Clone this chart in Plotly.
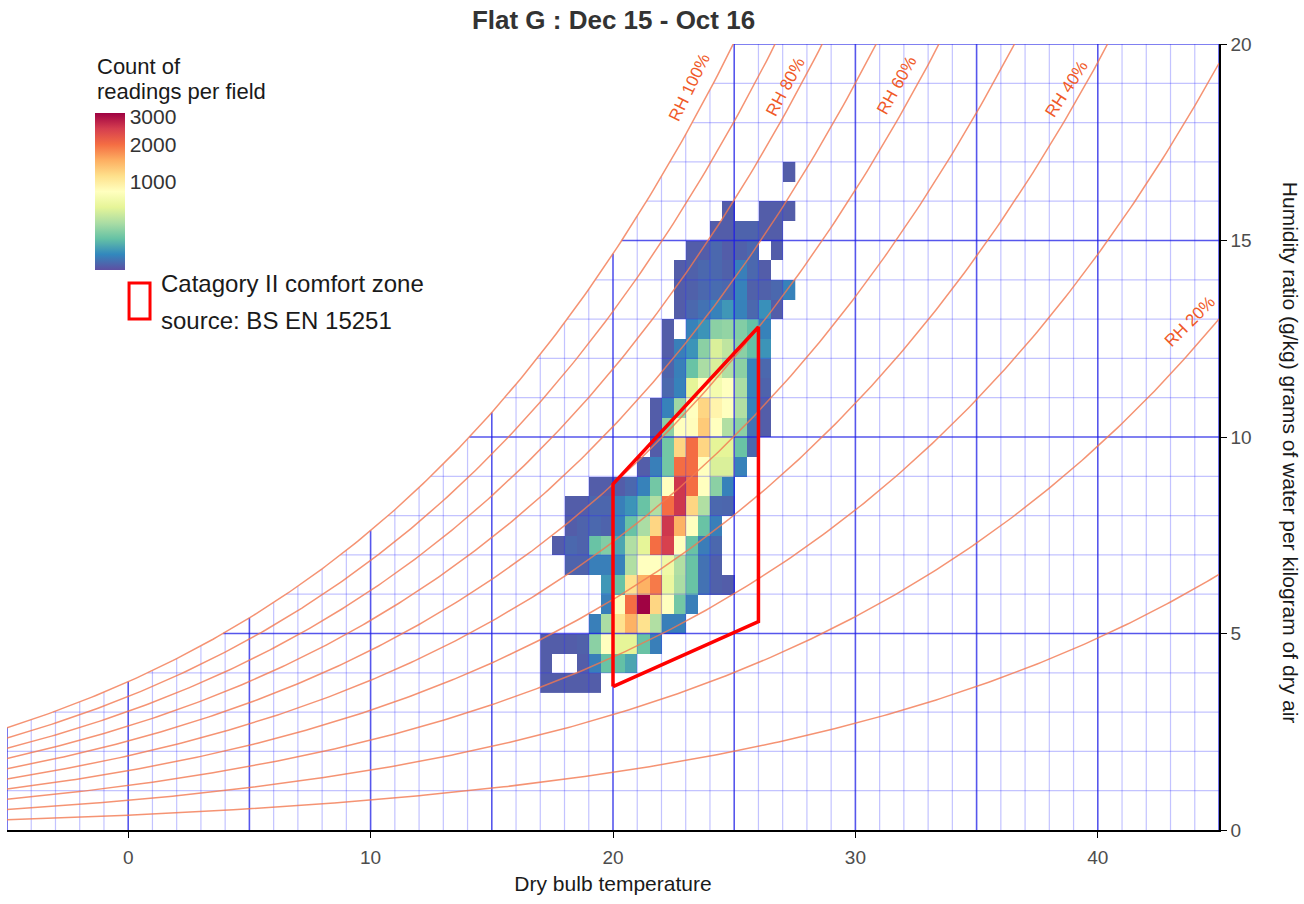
import numpy as np
import plotly.graph_objects as go

# ---------------- data ----------------
chart_title = "Flat G : Dec 15 - Oct 16"

# lower edges of the 0.5 x 0.5 bins
t_bin_lower = [17.0, 17.5, 18.0, 18.5, 19.0, 19.5, 20.0, 20.5, 21.0, 21.5, 22.0,
               22.5, 23.0, 23.5, 24.0, 24.5, 25.0, 25.5, 26.0, 26.5, 27.0]
w_bin_lower = [3.5, 4.0, 4.5, 5.0, 5.5, 6.0, 6.5, 7.0, 7.5, 8.0, 8.5, 9.0, 9.5,
               10.0, 10.5, 11.0, 11.5, 12.0, 12.5, 13.0, 13.5, 14.0, 14.5, 15.0,
               15.5, 16.0, 16.5]
bin_size = 0.5

# counts of readings per field (rows = humidity bins from 3.5 upward, cols = temperature bins)
counts = [
    [2, 2, 2, 2, 2, 0, 0, 0, 0, 0, 0, 0, 0, 0, 0, 0, 0, 0, 0, 0, 0],
    [2, 0, 0, 2, 22, 130, 120, 70, 0, 0, 0, 0, 0, 0, 0, 0, 0, 0, 0, 0, 0],
    [2, 2, 2, 3, 200, 780, 500, 500, 130, 22, 0, 0, 0, 0, 0, 0, 0, 0, 0, 0, 0],
    [0, 0, 0, 0, 22, 280, 1100, 1500, 1100, 300, 22, 22, 0, 0, 0, 0, 0, 0, 0, 0, 0],
    [0, 0, 0, 0, 0, 22, 800, 2000, 3100, 1200, 780, 150, 22, 0, 0, 0, 0, 0, 0, 0, 0],
    [0, 0, 0, 0, 0, 50, 130, 1100, 1500, 1900, 550, 280, 130, 12, 3, 2, 0, 0, 0, 0, 0],
    [0, 0, 4, 4, 22, 22, 25, 300, 780, 780, 600, 300, 130, 12, 3, 0, 0, 0, 0, 0, 0],
    [0, 2, 6, 4, 130, 180, 70, 300, 500, 2000, 2500, 780, 130, 20, 6, 0, 0, 0, 0, 0, 0],
    [0, 0, 2, 4, 6, 4, 25, 130, 280, 1200, 2600, 1500, 780, 130, 22, 0, 0, 0, 0, 0, 0],
    [0, 0, 2, 2, 5, 5, 22, 45, 130, 300, 2000, 2600, 1200, 300, 6, 5, 0, 0, 0, 0, 0],
    [0, 0, 0, 0, 2, 2, 2, 6, 25, 150, 780, 2600, 2000, 780, 200, 25, 0, 0, 0, 0, 0],
    [0, 0, 0, 0, 0, 0, 0, 0, 2, 22, 150, 2000, 2000, 780, 450, 450, 25, 0, 0, 0, 0],
    [0, 0, 0, 0, 0, 0, 0, 0, 0, 2, 150, 1200, 2000, 1200, 500, 500, 130, 6, 0, 0, 0],
    [0, 0, 0, 0, 0, 0, 0, 0, 0, 2, 200, 780, 800, 1300, 780, 300, 200, 12, 2, 0, 0],
    [0, 0, 0, 0, 0, 0, 0, 0, 0, 2, 25, 250, 780, 1200, 900, 780, 300, 25, 2, 0, 0],
    [0, 0, 0, 0, 0, 0, 0, 0, 0, 0, 6, 25, 500, 780, 650, 780, 280, 25, 4, 0, 0],
    [0, 0, 0, 0, 0, 0, 0, 0, 0, 0, 4, 22, 130, 280, 450, 300, 200, 25, 6, 0, 0],
    [0, 0, 0, 0, 0, 0, 0, 0, 0, 0, 2, 22, 45, 200, 450, 350, 200, 120, 45, 0, 0],
    [0, 0, 0, 0, 0, 0, 0, 0, 0, 0, 2, 0, 25, 45, 200, 220, 180, 120, 25, 0, 0],
    [0, 0, 0, 0, 0, 0, 0, 0, 0, 0, 0, 2, 6, 12, 25, 50, 25, 6, 40, 2, 0],
    [0, 0, 0, 0, 0, 0, 0, 0, 0, 0, 0, 2, 3, 6, 8, 6, 25, 3, 3, 6, 25],
    [0, 0, 0, 0, 0, 0, 0, 0, 0, 0, 0, 2, 3, 6, 6, 3, 22, 6, 2, 0, 0],
    [0, 0, 0, 0, 0, 0, 0, 0, 0, 0, 0, 0, 2, 2, 6, 2, 3, 6, 0, 2, 0],
    [0, 0, 0, 0, 0, 0, 0, 0, 0, 0, 0, 0, 0, 0, 2, 2, 4, 4, 2, 2, 0],
    [0, 0, 0, 0, 0, 0, 0, 0, 0, 0, 0, 0, 0, 0, 0, 2, 0, 0, 2, 2, 2],
    [0, 0, 0, 0, 0, 0, 0, 0, 0, 0, 0, 0, 0, 0, 0, 0, 0, 0, 0, 0, 0],
    [0, 0, 0, 0, 0, 0, 0, 0, 0, 0, 0, 0, 0, 0, 0, 0, 0, 0, 0, 0, 2],
]

colorbar_ticks = [1000, 2000, 3000]
count_max = 3125

# comfort zone polygon (Category II, BS EN 15251)
comfort_t = [20, 20, 26, 26, 20]
comfort_w = [3.65, 8.8, 12.8, 5.3, 3.65]

# relative humidity curves and their labels
rh_levels = [10, 20, 30, 40, 50, 60, 70, 80, 90, 100]
rh_label_text = ["RH 100%", "RH 80%", "RH 60%", "RH 40%", "RH 20%"]
rh_label_t = [23.15, 27.1, 31.7, 38.7, 43.8]
rh_label_w = [18.9, 18.9, 18.95, 18.85, 12.95]
rh_label_angle = [-64, -62, -61, -57, -45]

x_ticks = [0, 10, 20, 30, 40]
y_ticks = [0, 5, 10, 15, 20]
T_MIN, T_MAX, W_MIN, W_MAX = -5, 45, 0, 20

FONT = "Liberation Sans, Arial"

# ---------------- psychrometrics ----------------
P_ATM = 101325.0


def w_sat(t):
    pws = 610.94 * np.exp(17.625 * t / (t + 243.04))
    return 622.0 * pws / (P_ATM - pws)


def t_sat(w):
    pws = w * P_ATM / (622.0 + w)
    a = np.log(pws / 610.94)
    return 243.04 * a / (17.625 - a)


# ---------------- figure ----------------
fig = go.Figure()

# heatmap (square-root colour scale)
z = [[(np.sqrt(v) if v > 0 else None) for v in row] for row in counts]
x_centers = [t + bin_size / 2 for t in t_bin_lower]
y_centers = [w + bin_size / 2 for w in w_bin_lower]
fig.add_trace(go.Heatmap(
    x=x_centers, y=y_centers, z=z,
    colorscale="Spectral_r", zmin=0, zmax=np.sqrt(count_max),
    hoverongaps=False,
    colorbar=dict(
        tickvals=[np.sqrt(v) for v in colorbar_ticks],
        ticktext=[str(v) for v in colorbar_ticks],
        ticks="", tickfont=dict(size=21, color="#333333", family=FONT),
        thickness=30, len=157, lenmode="pixels", xpad=0, ypad=0,
        x=0.0726, xanchor="left", y=0.9122, yanchor="top",
        outlinewidth=0,
    ),
))


# blue grid lines clipped by the saturation curve
def vertical_lines(vals):
    xs, ys = [], []
    for t in vals:
        xs += [t, t, None]
        ys += [0, min(float(w_sat(t)), W_MAX), None]
    return xs, ys


def horizontal_lines(vals):
    xs, ys = [], []
    for w in vals:
        xs += [max(float(t_sat(w)), T_MIN), T_MAX, None]
        ys += [w, w, None]
    return xs, ys


minor_t = [t for t in range(T_MIN, T_MAX + 1) if t % 5 != 0]
major_t = [t for t in range(T_MIN, T_MAX + 1) if t % 5 == 0]
minor_w = [w for w in range(1, W_MAX + 1) if w % 5 != 0]
major_w = [w for w in range(1, W_MAX + 1) if w % 5 == 0]

for vals, fn, col, wd in [
    (minor_t, vertical_lines, "rgba(40,40,255,0.28)", 1.2),
    (minor_w, horizontal_lines, "rgba(40,40,255,0.28)", 1.2),
    (major_t, vertical_lines, "rgba(30,30,230,0.75)", 1.6),
    (major_w, horizontal_lines, "rgba(30,30,230,0.75)", 1.6),
]:
    xs, ys = fn(vals)
    fig.add_trace(go.Scatter(x=xs, y=ys, mode="lines", line=dict(color=col, width=wd),
                             hoverinfo="skip", showlegend=False))

# RH curves
t_curve = np.linspace(T_MIN, T_MAX, 301)
for rh in rh_levels:
    fig.add_trace(go.Scatter(x=t_curve, y=w_sat(t_curve) * rh / 100.0, mode="lines",
                             line=dict(color="rgba(242,120,80,0.8)", width=1.5),
                             hoverinfo="skip", showlegend=False))

# comfort zone polygon
fig.add_trace(go.Scatter(x=comfort_t, y=comfort_w, mode="lines",
                         line=dict(color="#FF0000", width=3.5),
                         hoverinfo="skip", showlegend=False))

annotations = []
for txt, tx, wy, ang in zip(rh_label_text, rh_label_t, rh_label_w, rh_label_angle):
    annotations.append(dict(x=tx, y=wy, xref="x", yref="y", text=txt, showarrow=False,
                            textangle=ang, font=dict(size=17, color="#F05A28", family=FONT)))

# colour bar title and custom legend for the comfort zone
annotations += [
    dict(x=0.0726, y=0.9720, xref="paper", yref="paper", xanchor="left", yanchor="middle",
         text="Count of", showarrow=False,
         font=dict(size=22, color="#1a1a1a", family=FONT)),
    dict(x=0.0726, y=0.9402, xref="paper", yref="paper", xanchor="left", yanchor="middle",
         text="readings per field", showarrow=False,
         font=dict(size=22, color="#1a1a1a", family=FONT)),
    dict(x=0.1254, y=0.6947, xref="paper", yref="paper", xanchor="left", yanchor="middle",
         text="Catagory II comfort zone", showarrow=False,
         font=dict(size=24, color="#1a1a1a", family=FONT)),
    dict(x=0.1254, y=0.6476, xref="paper", yref="paper", xanchor="left", yanchor="middle",
         text="source: BS EN 15251", showarrow=False,
         font=dict(size=24, color="#1a1a1a", family=FONT)),
    dict(x=1.0585, y=0.48, xref="paper", yref="paper", xanchor="center", yanchor="middle",
         text="Humidity ratio (g/kg) grams of water per kilogram of dry air",
         textangle=90, showarrow=False,
         font=dict(size=21, color="#1a1a1a", family=FONT)),
]

shapes = [dict(type="rect", xref="paper", yref="paper", x0=0.1007, x1=0.1180,
               y0=0.6500, y1=0.6960, line=dict(color="#FF0000", width=3),
               fillcolor="rgba(0,0,0,0)")]

fig.update_layout(
    width=1304, height=904,
    margin=dict(l=7, r=85, t=44, b=74),
    plot_bgcolor="white", paper_bgcolor="white",
    showlegend=False,
    font=dict(family=FONT, color="#4d4d4d"),
    title=dict(text="<b>" + chart_title + "</b>", x=0.4705, xanchor="center",
               y=0.978, yanchor="middle", yref="container",
               font=dict(size=26, color="#333333", family=FONT)),
    xaxis=dict(range=[T_MIN, T_MAX], tickvals=x_ticks, showgrid=False, zeroline=False,
               showline=True, linecolor="black", linewidth=1.5, ticks="outside",
               ticklen=6, tickcolor="black", ticklabelstandoff=3,
               tickfont=dict(size=19, color="#4d4d4d"),
               title=dict(text="Dry bulb temperature", standoff=10,
                          font=dict(size=21, color="#1a1a1a"))),
    yaxis=dict(range=[W_MIN, W_MAX], tickvals=y_ticks, side="right", showgrid=False,
               zeroline=False, showline=True, linecolor="black", linewidth=1.5,
               ticks="outside", ticklen=6, tickcolor="black",
               tickfont=dict(size=19, color="#4d4d4d")),
    annotations=annotations,
    shapes=shapes,
)

fig.write_html("out.html")
